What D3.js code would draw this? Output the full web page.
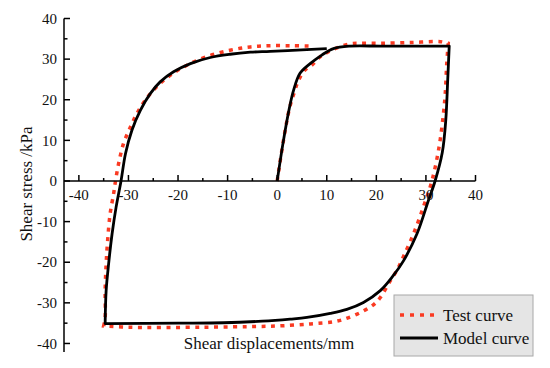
<!DOCTYPE html>
<html>
<head>
<meta charset="utf-8">
<script src="https://cdn.jsdelivr.net/npm/d3@7"></script>
<style>
    body { margin: 0; background: #fff; }
</style>
</head>
<body>
<div id="chart"></div>
<script>
var width = 550;
var height = 368;

// test curve (red dots)
var testX = [0, 1.27, 2.5, 3.5, 4.3, 5.6, 7.0, 8.7, 11.0, 14.4, 16.7, 20.8, 27, 32.9, 34.5,
    34.2, 33.9, 33.5, 32.6, 31.2, 29.6, 27.5, 25.5, 24.1, 22.8, 20.8, 19.4, 17.4, 14.7, 11.7,
    6.6, 0, -3.4, -15, -30, -35, -34.7, -34.7, -34.5, -34.2, -33.7, -33, -32.7, -32, -31,
    -29.6, -28.3, -26.6, -24.3, -21.6, -18.2, -14.2, -9.5, -5.4, -1.4, 3, 6.65];
var testY = [0, 10, 18, 22, 24.8, 27.3, 28.5, 30.6, 32.2, 33.7, 33.9, 33.9, 34.1, 34.3, 33.9,
    28.9, 21.5, 16.2, 8, 0, -6, -13, -18.5, -22.1, -24.6, -28.7, -30.5, -32, -33.5, -34.6,
    -35.2, -35.7, -35.8, -36, -36, -35.7, -33.6, -27, -20.4, -14.7, -8.1, -3.2, -0.7, 4.2, 9.2,
    13.3, 16.6, 19.9, 23.2, 26, 28.5, 30.6, 32.2, 33.0, 33.3, 33.3, 33.2];
var testCorners = [14, 35];

// model curve (black)
var modelX = [0, 1.27, 2.5, 3.3, 4.6, 6.65, 9.0, 11.35, 14.7, 20.8, 28, 34.7,
    34.4, 34.0, 33.3, 31.85, 30.5, 28.2, 25.5, 23.1, 20.8, 17.4, 14.05, 10.7, 6, 2.6, -3,
    -10.8, -20, -34.7, -34.5, -34.0, -33.3, -32.5, -31.5, -30.6, -29.3, -27.6, -25.6, -23.6,
    -20.9, -17.5, -13.5, -9.5, -5.4, -1.4, 5, 10];
var modelY = [0, 10, 18.2, 22.3, 26.5, 28.9, 31, 32.6, 33.2, 33.2, 33.2, 33.2,
    25, 14.9, 7, 0, -4.8, -13, -19.6, -23.8, -27, -29.9, -31.6, -32.6, -33.6, -34.0, -34.5,
    -34.9, -35.0, -35.1, -27, -20.4, -13, -6.5, 0, 6.7, 12.5, 17.4, 21.5, 24.4,
    26.9, 28.9, 30.4, 31.2, 31.7, 31.9, 32.3, 32.6];
var modelCorners = [11, 29];

var xTicks = [-40, -30, -20, -10, 0, 10, 20, 30, 40];
var yTicks = [-40, -30, -20, -10, 0, 10, 20, 30, 40];
var legendNames = ["Test curve", "Model curve"];

var x = d3.scaleLinear().domain([-43, 40]).range([64, 475.5]);
var y = d3.scaleLinear().domain([-42.1, 40]).range([352, 18.5]);

var svg = d3.select("#chart").append("svg")
    .attr("width", width)
    .attr("height", height);

var line = d3.line()
    .x(function(d) { return x(d[0]); })
    .y(function(d) { return y(d[1]); })
    .curve(d3.curveCatmullRom.alpha(0.5));

// split at the sharp corners so the spline does not overshoot there
function pieces(xs, ys, corners) {
    var pts = xs.map(function(v, i) { return [v, ys[i]]; });
    var cuts = [0].concat(corners, [pts.length - 1]);
    var d = "";
    for (var k = 0; k < cuts.length - 1; k++) {
        var seg = line(pts.slice(cuts[k], cuts[k + 1] + 1));
        d += k === 0 ? seg : seg.replace(/^M/, "L");
    }
    return d;
}

svg.append("path")
    .attr("d", pieces(testX, testY, testCorners))
    .attr("fill", "none")
    .attr("stroke", "#fa3a22")
    .attr("stroke-width", 3.5)
    .attr("stroke-dasharray", "4,5.5");

svg.append("path")
    .attr("d", pieces(modelX, modelY, modelCorners))
    .attr("fill", "none")
    .attr("stroke", "#000")
    .attr("stroke-width", 2.8)
    .attr("stroke-linejoin", "round");

// y axis, ticks pointing right
var yMinor = d3.range(-40, 41, 5);
var yAxis = svg.append("g");
yAxis.append("line")
    .attr("x1", x(-43)).attr("x2", x(-43))
    .attr("y1", y(40)).attr("y2", y(-42.1))
    .attr("stroke", "#000").attr("stroke-width", 1.5);
yAxis.selectAll(".tk").data(yMinor).enter().append("line")
    .attr("x1", x(-43))
    .attr("x2", function(d) { return x(-43) + (d % 10 === 0 ? 6 : 3.5); })
    .attr("y1", function(d) { return y(d); })
    .attr("y2", function(d) { return y(d); })
    .attr("stroke", "#000").attr("stroke-width", 1.5);
yAxis.selectAll("text").data(yTicks).enter().append("text")
    .attr("x", 57)
    .attr("y", function(d) { return y(d); })
    .attr("dy", "0.35em")
    .attr("text-anchor", "end")
    .style("font-size", "15px")
    .text(function(d) { return d; });

// x axis at y = 0, ticks pointing up
var xMinor = d3.range(-40, 41, 5);
var xAxis = svg.append("g");
xAxis.append("line")
    .attr("x1", x(-43)).attr("x2", x(40))
    .attr("y1", y(0)).attr("y2", y(0))
    .attr("stroke", "#000").attr("stroke-width", 1.5);
xAxis.selectAll(".tk").data(xMinor).enter().append("line")
    .attr("x1", function(d) { return x(d); })
    .attr("x2", function(d) { return x(d); })
    .attr("y1", y(0))
    .attr("y2", function(d) { return y(0) - (d % 10 === 0 ? 6 : 3); })
    .attr("stroke", "#000").attr("stroke-width", 1.5);
xAxis.selectAll("text").data(xTicks).enter().append("text")
    .attr("x", function(d) { return x(d); })
    .attr("y", y(0) + 19)
    .attr("text-anchor", "middle")
    .style("font-size", "15px")
    .text(function(d) { return d; });

// axis titles
svg.append("text")
    .attr("transform", "translate(32,184) rotate(-90)")
    .attr("text-anchor", "middle")
    .style("font-size", "17px")
    .text("Shear stress /kPa");

svg.append("text")
    .attr("x", 269)
    .attr("y", 349)
    .attr("text-anchor", "middle")
    .style("font-size", "17px")
    .text("Shear displacements/mm");

// legend
var legend = svg.append("g");
legend.append("rect")
    .attr("x", 394).attr("y", 295)
    .attr("width", 139).attr("height", 61)
    .attr("fill", "#e5e5e5")
    .attr("stroke", "#a8a8a8")
    .attr("stroke-width", 1);

var legendItems = legend.selectAll(".item").data(legendNames).enter().append("g")
    .attr("transform", function(d, i) { return "translate(0," + (315 + i * 23) + ")"; });

legendItems.append("line")
    .attr("x1", 400).attr("x2", function(d, i) { return i === 0 ? 436 : 438; })
    .attr("y1", 0).attr("y2", 0)
    .attr("stroke", function(d, i) { return i === 0 ? "#fa3a22" : "#000"; })
    .attr("stroke-width", function(d, i) { return i === 0 ? 3.5 : 2.8; })
    .attr("stroke-dasharray", function(d, i) { return i === 0 ? "4,6" : null; });

legendItems.append("text")
    .attr("x", 443)
    .attr("y", 0)
    .attr("dy", "0.35em")
    .style("font-size", "17px")
    .text(function(d) { return d; });

// Times-like face on every label
svg.selectAll("text")
    .style("font-family", "'Liberation Serif'")
    .style("fill", "#111");
</script>
</body>
</html>
